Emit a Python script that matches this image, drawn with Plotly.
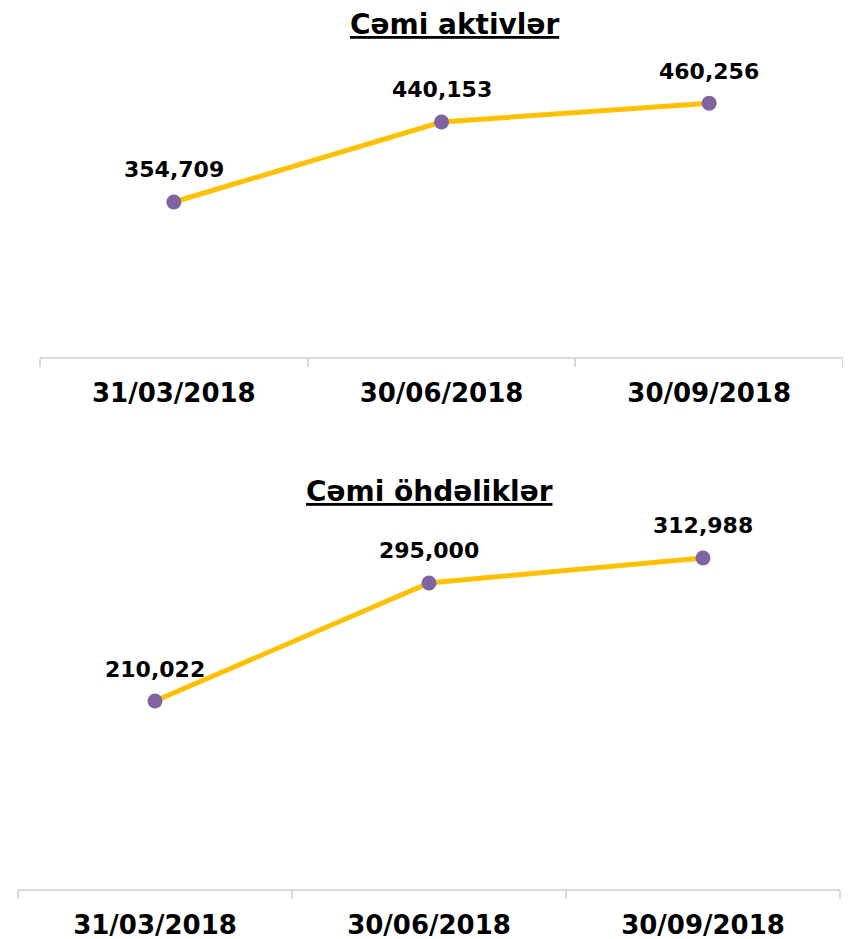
import plotly.graph_objects as go

categories = ["31/03/2018", "30/06/2018", "30/09/2018"]
assets = [354709, 440153, 460256]
liabilities = [210022, 295000, 312988]
titles = ["Cəmi aktivlər", "Cəmi öhdəliklər"]

W, H = 851, 939
OFF = 8  # page body margin offset
FONT = "DejaVu Sans"
LINE = "#FFC000"
MARK = "#8064A2"
AX = "#D9D9D9"

def fmt(v):
    return f"{v:,}"

def py(p):
    return 1 - (p - OFF) / H

def px(p):
    return (p - OFF) / W

fig = go.Figure()
annotations = []
for i, (vals, ax) in enumerate([(assets, ""), (liabilities, "2")]):
    fig.add_trace(go.Scatter(
        x=categories, y=vals, mode="lines+markers",
        xaxis="x" + ax, yaxis="y" + ax,
        line=dict(color=LINE, width=5),
        marker=dict(color=MARK, size=15),
        cliponaxis=False, showlegend=False, hoverinfo="skip",
    ))
    for c, v in zip(categories, vals):
        annotations.append(dict(
            text=fmt(v), x=c, y=v, xref="x" + ax, yref="y" + ax,
            showarrow=False, xanchor="center", yanchor="middle", yshift=32,
            font=dict(family=FONT, size=22, color="black", weight="bold")))

xcommon = dict(type="category", range=[-0.5, 2.5], showgrid=False, zeroline=False,
               showline=True, automargin=False,
               linecolor=AX, linewidth=2, ticks="outside", tickson="boundaries",
               ticklen=8, tickwidth=2, tickcolor=AX, ticklabelstandoff=12,
               tickfont=dict(family=FONT, size=26, color="black", weight="bold"),
               fixedrange=True)
ycommon = dict(visible=False, showgrid=False, zeroline=False, fixedrange=True,
               automargin=False)

annotations += [
    dict(text=f"<u>{titles[0]}</u>", x=px(454), y=py(24),
         xref="paper", yref="paper", showarrow=False, xanchor="center", yanchor="middle",
         font=dict(family=FONT, size=28, color="black", weight="bold")),
    dict(text=f"<u>{titles[1]}</u>", x=px(429), y=py(492),
         xref="paper", yref="paper", showarrow=False, xanchor="center", yanchor="middle",
         font=dict(family=FONT, size=28, color="black", weight="bold")),
]

fig.update_layout(
    width=W, height=H, margin=dict(l=0, r=0, t=0, b=0, autoexpand=False),
    paper_bgcolor="white", plot_bgcolor="white",
    xaxis=dict(domain=[px(40), px(843)], anchor="y", **xcommon),
    yaxis=dict(domain=[py(357), py(60)],
               range=[189169, 506365], anchor="x", **ycommon),
    xaxis2=dict(domain=[px(18), px(840)], anchor="y2", **xcommon),
    yaxis2=dict(domain=[py(889), py(530)],
                range=[74662, 333142], anchor="x2", **ycommon),
    annotations=annotations,
)

fig.write_html("out.html")
